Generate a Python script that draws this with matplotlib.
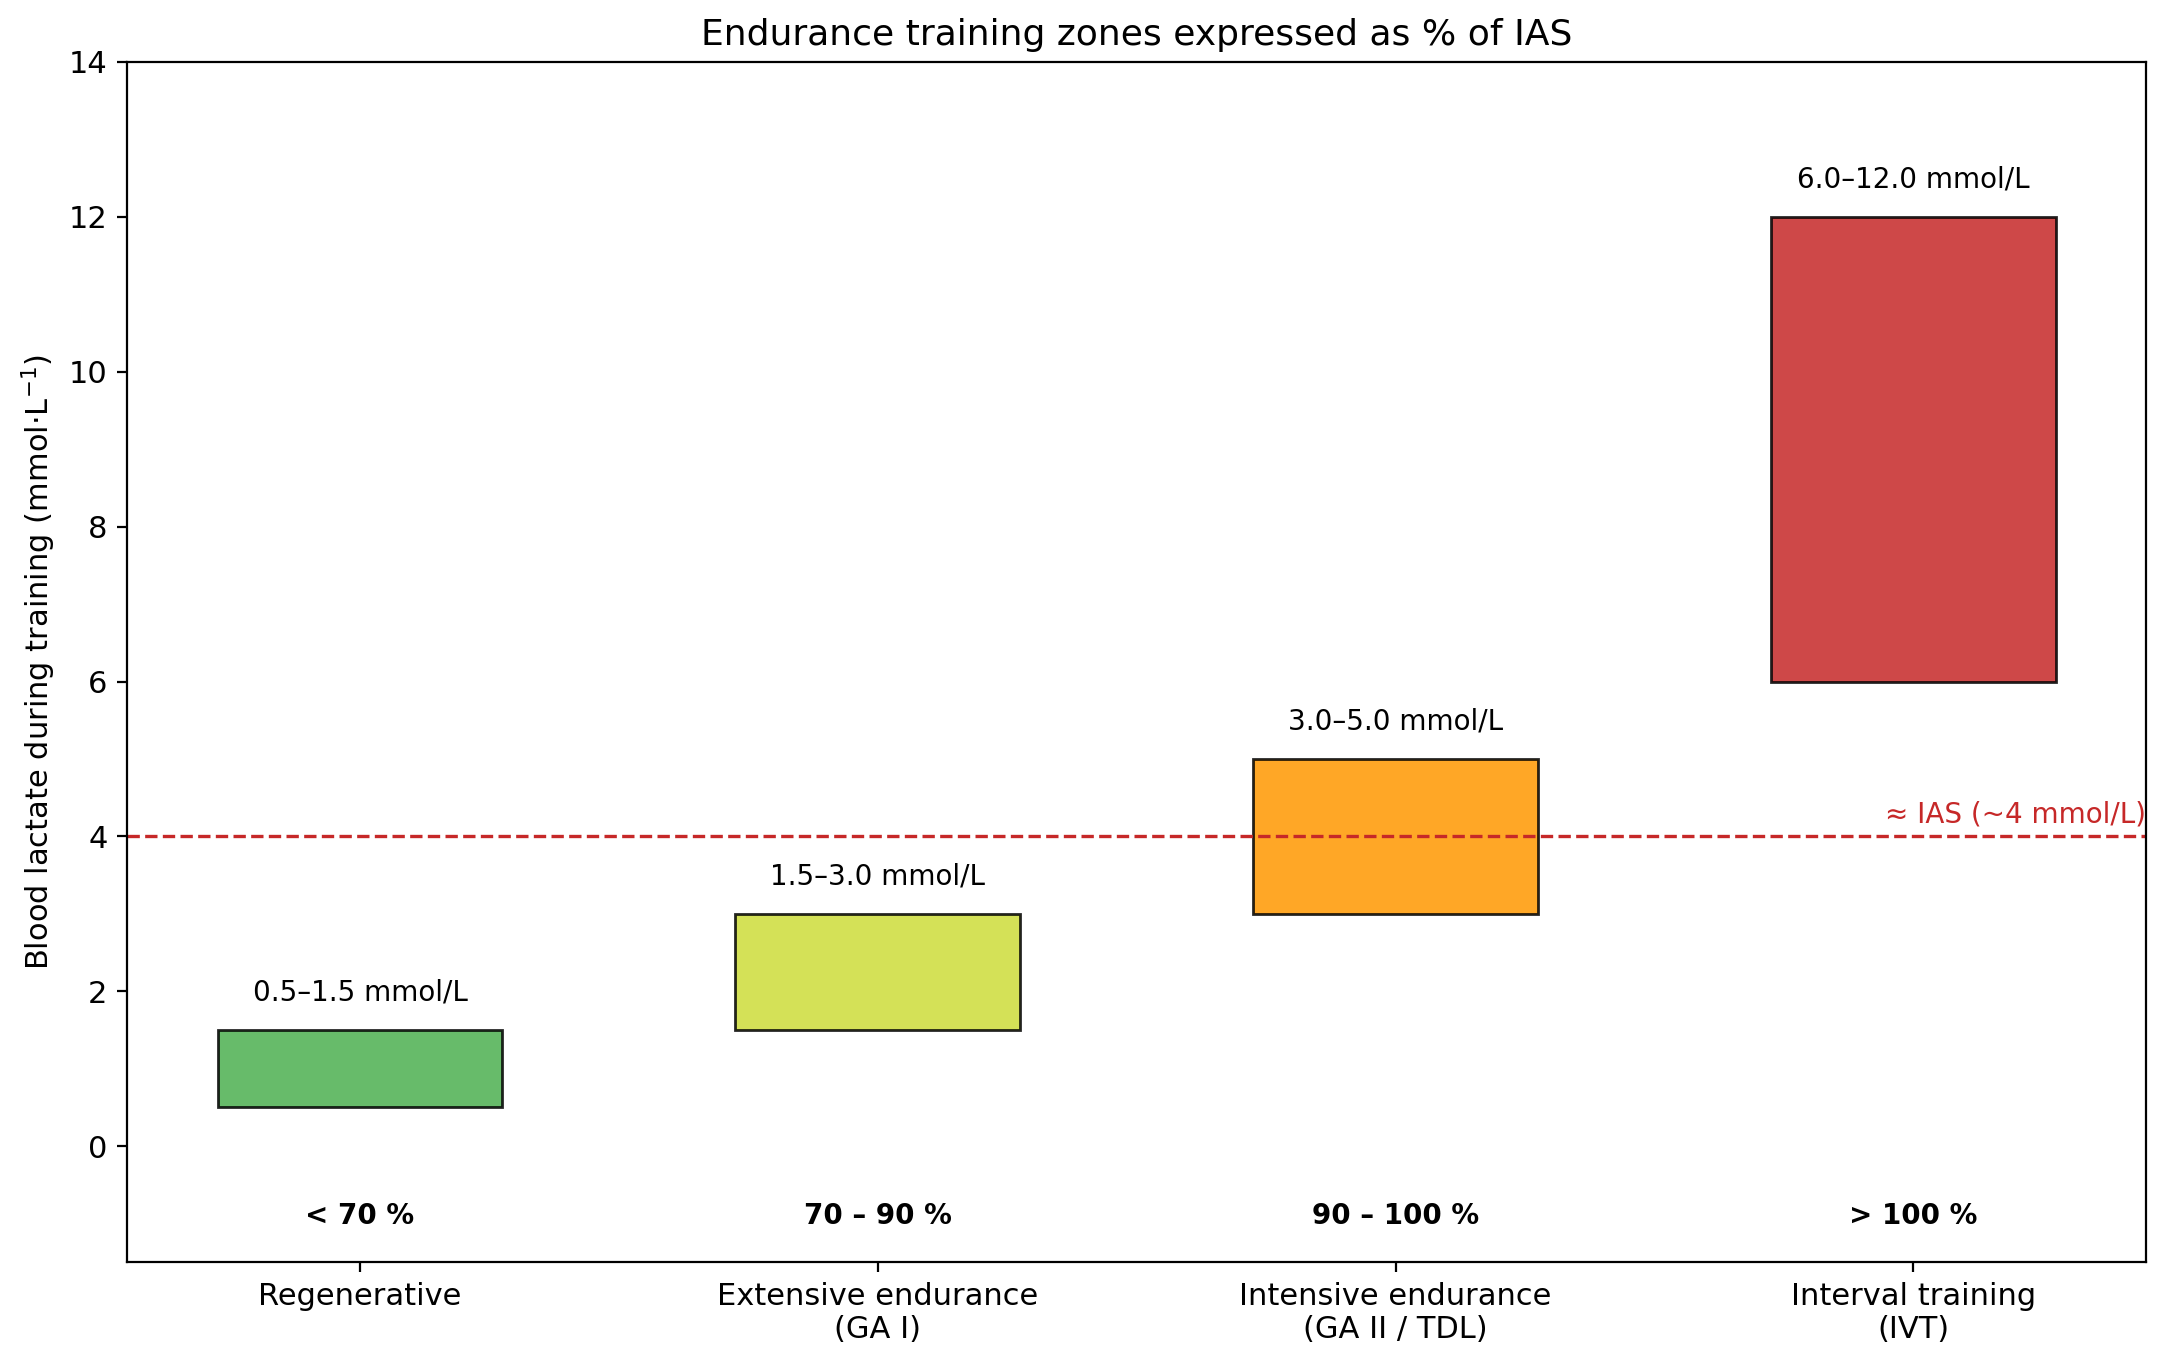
"""
Endurance training zones: blood lactate ranges vs % of IAS
"""
import matplotlib.pyplot as plt

# Zone data
zones = ['Regenerative', 'Extensive endurance\n(GA I)', 'Intensive endurance\n(GA II / TDL)',
         'Interval training\n(IVT)']
lactate_low = [0.5, 1.5, 3.0, 6.0]
lactate_high = [1.5, 3.0, 5.0, 12.0]
pct_ias = ['< 70 %', '70 – 90 %', '90 – 100 %', '> 100 %']
colors = ['#4caf50', '#cddc39', '#ff9800', '#c62828']
ias_level = 4

fig, ax = plt.subplots(figsize=(10.84, 6.825), dpi=200)
fig.subplots_adjust(left=0.0586, right=0.990, top=0.9546, bottom=0.0752)

x = list(range(len(zones)))
heights = [h - l for l, h in zip(lactate_low, lactate_high)]
ax.bar(x, heights, bottom=lactate_low, width=0.55, color=colors, alpha=0.85,
       edgecolor='black', linewidth=1.0)

for xi, lo, hi, pct in zip(x, lactate_low, lactate_high, pct_ias):
    ax.text(xi, hi + 0.3, f'{lo:.1f}–{hi:.1f} mmol/L', ha='center', va='bottom', fontsize=10)
    ax.text(xi, -0.9, pct, ha='center', va='center', fontsize=10, fontweight='bold')

# IAS reference line
ax.axhline(ias_level, color='#c62828', linestyle='--', linewidth=1.2)
ax.text(3.45, ias_level + 0.1, '≈ IAS (~4 mmol/L)', ha='right', va='bottom',
        color='#c62828', fontsize=10)

ax.set_xticks(x)
ax.set_xticklabels(zones, fontsize=11)
ax.tick_params(axis='y', labelsize=11)
ax.set_xlim(-0.45, 3.45)
ax.set_ylim(-1.5, 14)
ax.set_ylabel('Blood lactate during training (mmol·L$^{-1}$)', fontsize=11)
ax.set_title('Endurance training zones expressed as % of IAS', fontsize=13)

plt.savefig('out.png', dpi=200)
